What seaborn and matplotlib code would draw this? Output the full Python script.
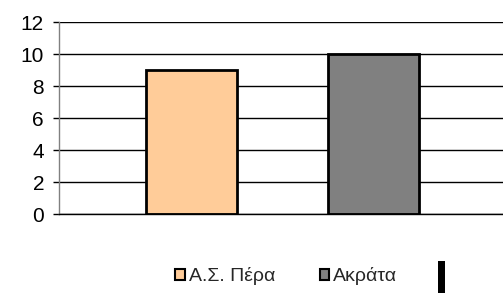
import matplotlib
matplotlib.use("Agg")
import matplotlib.pyplot as plt
import seaborn as sns
import pandas as pd
from matplotlib.patches import Patch, Rectangle

series = ["Α.Σ. Πέρα", "Ακράτα"]
values = [9, 10]
colors = ["#FFCC99", "#808080"]
yticks = [0, 2, 4, 6, 8, 10, 12]

sns.set_style("white")
plt.rcParams['font.family'] = ['Liberation Sans', 'DejaVu Sans']

df = pd.DataFrame({"series": series, "value": values})

fig = plt.figure(figsize=(5.03, 2.93), dpi=100)
ax = fig.add_axes([59/503, 1-214/293, 1-59/503, (214-22)/293])

sns.barplot(data=df, x="series", y="value", hue="series", palette=colors,
            dodge=False, width=0.5, edgecolor="black", linewidth=2,
            saturation=1, legend=False, ax=ax)

ax.set_xlim(-0.728, 1.71)
ax.set_ylim(0, 12)
ax.set_yticks(yticks)
ax.set_yticklabels([str(t) for t in yticks])
ax.set_xticks([])
ax.set_xlabel("")
ax.set_ylabel("")
ax.yaxis.grid(True, color="black", linewidth=1)
ax.set_axisbelow(True)
ax.tick_params(axis="y", length=4.3, width=1, color="black", pad=6.5,
               left=True, labelsize=15, labelcolor="black")
for s in ["top", "right"]:
    ax.spines[s].set_visible(False)
ax.spines["left"].set_color("#808080")
ax.spines["left"].set_linewidth(1)
ax.spines["bottom"].set_color("black")
ax.spines["bottom"].set_linewidth(1)

handles = [Patch(facecolor=c, edgecolor="black", linewidth=1.5) for c in colors]
fig.legend(handles, series, loc="center left", bbox_to_anchor=(175/503, 1-276/293),
           ncol=2, frameon=False, fontsize=14, handlelength=0.5,
           handleheight=0.5, handletextpad=0.2, columnspacing=2.3,
           borderpad=0, borderaxespad=0)

fig.add_artist(Rectangle((438/503, 0), 7/503, 32/293, transform=fig.transFigure,
                         facecolor="black", edgecolor="none"))

fig.savefig("out.png", dpi=100)
